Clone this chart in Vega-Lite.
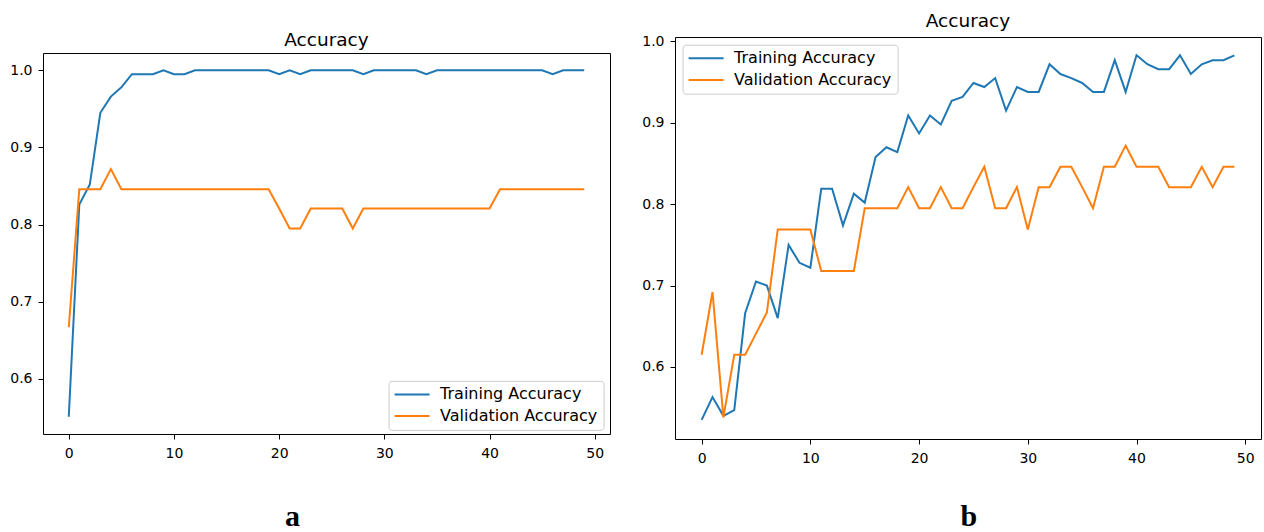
{
"$schema": "https://vega.github.io/schema/vega-lite/v6.json",
"background": "white",
"padding": {"left": 9, "top": 11, "right": 0, "bottom": 0},
"spacing": 30,
"config": {
  "view": {"stroke": "#000", "strokeWidth": 1},
  "font": "DejaVu Sans",
  "axis": {"grid": false, "domain": false, "tickColor": "#000", "tickSize": 5, "tickWidth": 1, "labelFont": "DejaVu Sans", "labelFontSize": 14, "labelColor": "#000"},
  "title": {"font": "DejaVu Sans", "fontSize": 18.5, "fontWeight": "normal", "color": "#000", "anchor": "middle"}
},
"datasets": {
"a": [
{"epoch":0,"series":"Training Accuracy","accuracy":0.551},{"epoch":1,"series":"Training Accuracy","accuracy":0.826},{"epoch":2,"series":"Training Accuracy","accuracy":0.852},{"epoch":3,"series":"Training Accuracy","accuracy":0.945},{"epoch":4,"series":"Training Accuracy","accuracy":0.966},{"epoch":5,"series":"Training Accuracy","accuracy":0.978},{"epoch":6,"series":"Training Accuracy","accuracy":0.995},{"epoch":7,"series":"Training Accuracy","accuracy":0.995},{"epoch":8,"series":"Training Accuracy","accuracy":0.995},{"epoch":9,"series":"Training Accuracy","accuracy":1.0},
{"epoch":10,"series":"Training Accuracy","accuracy":0.995},{"epoch":11,"series":"Training Accuracy","accuracy":0.995},{"epoch":12,"series":"Training Accuracy","accuracy":1.0},{"epoch":13,"series":"Training Accuracy","accuracy":1.0},{"epoch":14,"series":"Training Accuracy","accuracy":1.0},{"epoch":15,"series":"Training Accuracy","accuracy":1.0},{"epoch":16,"series":"Training Accuracy","accuracy":1.0},{"epoch":17,"series":"Training Accuracy","accuracy":1.0},{"epoch":18,"series":"Training Accuracy","accuracy":1.0},{"epoch":19,"series":"Training Accuracy","accuracy":1.0},
{"epoch":20,"series":"Training Accuracy","accuracy":0.995},{"epoch":21,"series":"Training Accuracy","accuracy":1.0},{"epoch":22,"series":"Training Accuracy","accuracy":0.995},{"epoch":23,"series":"Training Accuracy","accuracy":1.0},{"epoch":24,"series":"Training Accuracy","accuracy":1.0},{"epoch":25,"series":"Training Accuracy","accuracy":1.0},{"epoch":26,"series":"Training Accuracy","accuracy":1.0},{"epoch":27,"series":"Training Accuracy","accuracy":1.0},{"epoch":28,"series":"Training Accuracy","accuracy":0.995},{"epoch":29,"series":"Training Accuracy","accuracy":1.0},
{"epoch":30,"series":"Training Accuracy","accuracy":1.0},{"epoch":31,"series":"Training Accuracy","accuracy":1.0},{"epoch":32,"series":"Training Accuracy","accuracy":1.0},{"epoch":33,"series":"Training Accuracy","accuracy":1.0},{"epoch":34,"series":"Training Accuracy","accuracy":0.995},{"epoch":35,"series":"Training Accuracy","accuracy":1.0},{"epoch":36,"series":"Training Accuracy","accuracy":1.0},{"epoch":37,"series":"Training Accuracy","accuracy":1.0},{"epoch":38,"series":"Training Accuracy","accuracy":1.0},{"epoch":39,"series":"Training Accuracy","accuracy":1.0},
{"epoch":40,"series":"Training Accuracy","accuracy":1.0},{"epoch":41,"series":"Training Accuracy","accuracy":1.0},{"epoch":42,"series":"Training Accuracy","accuracy":1.0},{"epoch":43,"series":"Training Accuracy","accuracy":1.0},{"epoch":44,"series":"Training Accuracy","accuracy":1.0},{"epoch":45,"series":"Training Accuracy","accuracy":1.0},{"epoch":46,"series":"Training Accuracy","accuracy":0.995},{"epoch":47,"series":"Training Accuracy","accuracy":1.0},{"epoch":48,"series":"Training Accuracy","accuracy":1.0},{"epoch":49,"series":"Training Accuracy","accuracy":1.0},
{"epoch":0,"series":"Validation Accuracy","accuracy":0.667},{"epoch":1,"series":"Validation Accuracy","accuracy":0.846},{"epoch":2,"series":"Validation Accuracy","accuracy":0.846},{"epoch":3,"series":"Validation Accuracy","accuracy":0.846},{"epoch":4,"series":"Validation Accuracy","accuracy":0.872},{"epoch":5,"series":"Validation Accuracy","accuracy":0.846},{"epoch":6,"series":"Validation Accuracy","accuracy":0.846},{"epoch":7,"series":"Validation Accuracy","accuracy":0.846},{"epoch":8,"series":"Validation Accuracy","accuracy":0.846},{"epoch":9,"series":"Validation Accuracy","accuracy":0.846},
{"epoch":10,"series":"Validation Accuracy","accuracy":0.846},{"epoch":11,"series":"Validation Accuracy","accuracy":0.846},{"epoch":12,"series":"Validation Accuracy","accuracy":0.846},{"epoch":13,"series":"Validation Accuracy","accuracy":0.846},{"epoch":14,"series":"Validation Accuracy","accuracy":0.846},{"epoch":15,"series":"Validation Accuracy","accuracy":0.846},{"epoch":16,"series":"Validation Accuracy","accuracy":0.846},{"epoch":17,"series":"Validation Accuracy","accuracy":0.846},{"epoch":18,"series":"Validation Accuracy","accuracy":0.846},{"epoch":19,"series":"Validation Accuracy","accuracy":0.846},
{"epoch":20,"series":"Validation Accuracy","accuracy":0.821},{"epoch":21,"series":"Validation Accuracy","accuracy":0.795},{"epoch":22,"series":"Validation Accuracy","accuracy":0.795},{"epoch":23,"series":"Validation Accuracy","accuracy":0.821},{"epoch":24,"series":"Validation Accuracy","accuracy":0.821},{"epoch":25,"series":"Validation Accuracy","accuracy":0.821},{"epoch":26,"series":"Validation Accuracy","accuracy":0.821},{"epoch":27,"series":"Validation Accuracy","accuracy":0.795},{"epoch":28,"series":"Validation Accuracy","accuracy":0.821},{"epoch":29,"series":"Validation Accuracy","accuracy":0.821},
{"epoch":30,"series":"Validation Accuracy","accuracy":0.821},{"epoch":31,"series":"Validation Accuracy","accuracy":0.821},{"epoch":32,"series":"Validation Accuracy","accuracy":0.821},{"epoch":33,"series":"Validation Accuracy","accuracy":0.821},{"epoch":34,"series":"Validation Accuracy","accuracy":0.821},{"epoch":35,"series":"Validation Accuracy","accuracy":0.821},{"epoch":36,"series":"Validation Accuracy","accuracy":0.821},{"epoch":37,"series":"Validation Accuracy","accuracy":0.821},{"epoch":38,"series":"Validation Accuracy","accuracy":0.821},{"epoch":39,"series":"Validation Accuracy","accuracy":0.821},
{"epoch":40,"series":"Validation Accuracy","accuracy":0.821},{"epoch":41,"series":"Validation Accuracy","accuracy":0.846},{"epoch":42,"series":"Validation Accuracy","accuracy":0.846},{"epoch":43,"series":"Validation Accuracy","accuracy":0.846},{"epoch":44,"series":"Validation Accuracy","accuracy":0.846},{"epoch":45,"series":"Validation Accuracy","accuracy":0.846},{"epoch":46,"series":"Validation Accuracy","accuracy":0.846},{"epoch":47,"series":"Validation Accuracy","accuracy":0.846},{"epoch":48,"series":"Validation Accuracy","accuracy":0.846},{"epoch":49,"series":"Validation Accuracy","accuracy":0.846}
],
"b": [
{"epoch":0,"series":"Training Accuracy","accuracy":0.535},{"epoch":1,"series":"Training Accuracy","accuracy":0.563},{"epoch":2,"series":"Training Accuracy","accuracy":0.540},{"epoch":3,"series":"Training Accuracy","accuracy":0.547},{"epoch":4,"series":"Training Accuracy","accuracy":0.666},{"epoch":5,"series":"Training Accuracy","accuracy":0.705},{"epoch":6,"series":"Training Accuracy","accuracy":0.700},{"epoch":7,"series":"Training Accuracy","accuracy":0.660},{"epoch":8,"series":"Training Accuracy","accuracy":0.750},{"epoch":9,"series":"Training Accuracy","accuracy":0.728},
{"epoch":10,"series":"Training Accuracy","accuracy":0.722},{"epoch":11,"series":"Training Accuracy","accuracy":0.819},{"epoch":12,"series":"Training Accuracy","accuracy":0.819},{"epoch":13,"series":"Training Accuracy","accuracy":0.774},{"epoch":14,"series":"Training Accuracy","accuracy":0.813},{"epoch":15,"series":"Training Accuracy","accuracy":0.802},{"epoch":16,"series":"Training Accuracy","accuracy":0.858},{"epoch":17,"series":"Training Accuracy","accuracy":0.870},{"epoch":18,"series":"Training Accuracy","accuracy":0.864},{"epoch":19,"series":"Training Accuracy","accuracy":0.909},
{"epoch":20,"series":"Training Accuracy","accuracy":0.887},{"epoch":21,"series":"Training Accuracy","accuracy":0.909},{"epoch":22,"series":"Training Accuracy","accuracy":0.898},{"epoch":23,"series":"Training Accuracy","accuracy":0.927},{"epoch":24,"series":"Training Accuracy","accuracy":0.932},{"epoch":25,"series":"Training Accuracy","accuracy":0.949},{"epoch":26,"series":"Training Accuracy","accuracy":0.944},{"epoch":27,"series":"Training Accuracy","accuracy":0.955},{"epoch":28,"series":"Training Accuracy","accuracy":0.915},{"epoch":29,"series":"Training Accuracy","accuracy":0.944},
{"epoch":30,"series":"Training Accuracy","accuracy":0.938},{"epoch":31,"series":"Training Accuracy","accuracy":0.938},{"epoch":32,"series":"Training Accuracy","accuracy":0.972},{"epoch":33,"series":"Training Accuracy","accuracy":0.960},{"epoch":34,"series":"Training Accuracy","accuracy":0.955},{"epoch":35,"series":"Training Accuracy","accuracy":0.949},{"epoch":36,"series":"Training Accuracy","accuracy":0.938},{"epoch":37,"series":"Training Accuracy","accuracy":0.938},{"epoch":38,"series":"Training Accuracy","accuracy":0.977},{"epoch":39,"series":"Training Accuracy","accuracy":0.938},
{"epoch":40,"series":"Training Accuracy","accuracy":0.983},{"epoch":41,"series":"Training Accuracy","accuracy":0.972},{"epoch":42,"series":"Training Accuracy","accuracy":0.966},{"epoch":43,"series":"Training Accuracy","accuracy":0.966},{"epoch":44,"series":"Training Accuracy","accuracy":0.983},{"epoch":45,"series":"Training Accuracy","accuracy":0.960},{"epoch":46,"series":"Training Accuracy","accuracy":0.972},{"epoch":47,"series":"Training Accuracy","accuracy":0.977},{"epoch":48,"series":"Training Accuracy","accuracy":0.977},{"epoch":49,"series":"Training Accuracy","accuracy":0.983},
{"epoch":0,"series":"Validation Accuracy","accuracy":0.615},{"epoch":1,"series":"Validation Accuracy","accuracy":0.692},{"epoch":2,"series":"Validation Accuracy","accuracy":0.538},{"epoch":3,"series":"Validation Accuracy","accuracy":0.615},{"epoch":4,"series":"Validation Accuracy","accuracy":0.615},{"epoch":5,"series":"Validation Accuracy","accuracy":0.641},{"epoch":6,"series":"Validation Accuracy","accuracy":0.667},{"epoch":7,"series":"Validation Accuracy","accuracy":0.769},{"epoch":8,"series":"Validation Accuracy","accuracy":0.769},{"epoch":9,"series":"Validation Accuracy","accuracy":0.769},
{"epoch":10,"series":"Validation Accuracy","accuracy":0.769},{"epoch":11,"series":"Validation Accuracy","accuracy":0.718},{"epoch":12,"series":"Validation Accuracy","accuracy":0.718},{"epoch":13,"series":"Validation Accuracy","accuracy":0.718},{"epoch":14,"series":"Validation Accuracy","accuracy":0.718},{"epoch":15,"series":"Validation Accuracy","accuracy":0.795},{"epoch":16,"series":"Validation Accuracy","accuracy":0.795},{"epoch":17,"series":"Validation Accuracy","accuracy":0.795},{"epoch":18,"series":"Validation Accuracy","accuracy":0.795},{"epoch":19,"series":"Validation Accuracy","accuracy":0.821},
{"epoch":20,"series":"Validation Accuracy","accuracy":0.795},{"epoch":21,"series":"Validation Accuracy","accuracy":0.795},{"epoch":22,"series":"Validation Accuracy","accuracy":0.821},{"epoch":23,"series":"Validation Accuracy","accuracy":0.795},{"epoch":24,"series":"Validation Accuracy","accuracy":0.795},{"epoch":25,"series":"Validation Accuracy","accuracy":0.821},{"epoch":26,"series":"Validation Accuracy","accuracy":0.846},{"epoch":27,"series":"Validation Accuracy","accuracy":0.795},{"epoch":28,"series":"Validation Accuracy","accuracy":0.795},{"epoch":29,"series":"Validation Accuracy","accuracy":0.821},
{"epoch":30,"series":"Validation Accuracy","accuracy":0.769},{"epoch":31,"series":"Validation Accuracy","accuracy":0.821},{"epoch":32,"series":"Validation Accuracy","accuracy":0.821},{"epoch":33,"series":"Validation Accuracy","accuracy":0.846},{"epoch":34,"series":"Validation Accuracy","accuracy":0.846},{"epoch":35,"series":"Validation Accuracy","accuracy":0.821},{"epoch":36,"series":"Validation Accuracy","accuracy":0.795},{"epoch":37,"series":"Validation Accuracy","accuracy":0.846},{"epoch":38,"series":"Validation Accuracy","accuracy":0.846},{"epoch":39,"series":"Validation Accuracy","accuracy":0.872},
{"epoch":40,"series":"Validation Accuracy","accuracy":0.846},{"epoch":41,"series":"Validation Accuracy","accuracy":0.846},{"epoch":42,"series":"Validation Accuracy","accuracy":0.846},{"epoch":43,"series":"Validation Accuracy","accuracy":0.821},{"epoch":44,"series":"Validation Accuracy","accuracy":0.821},{"epoch":45,"series":"Validation Accuracy","accuracy":0.821},{"epoch":46,"series":"Validation Accuracy","accuracy":0.846},{"epoch":47,"series":"Validation Accuracy","accuracy":0.821},{"epoch":48,"series":"Validation Accuracy","accuracy":0.846},{"epoch":49,"series":"Validation Accuracy","accuracy":0.846}
]
},
"resolve": {"scale": {"color": "independent", "x": "independent", "y": "independent"}, "legend": {"color": "independent"}},
"hconcat": [
{
  "spacing": -9,
  "vconcat": [
    {
      "data": {"values": []},
      "width": 567, "height": 1,
      "view": {"stroke": "transparent"},
      "mark": "point"
    },
    {
      "data": {"name": "a"},
      "width": 567, "height": 381,
      "title": {"text": "Accuracy", "offset": 4},
      "mark": {"type": "line", "strokeWidth": 2},
      "encoding": {
        "x": {"field": "epoch", "type": "quantitative",
          "scale": {"domain": [-2.45, 51.45], "nice": false, "zero": false},
          "axis": {"values": [0,10,20,30,40,50], "labelPadding": 7, "title": "a", "titleFont": "Liberation Serif", "titleFontWeight": "bold", "titleFontSize": 30, "titleColor": "#000", "titleX": 249, "titleY": 91, "titleBaseline": "alphabetic", "titleAlign": "center"}},
        "y": {"field": "accuracy", "type": "quantitative",
          "scale": {"domain": [0.5286, 1.0225], "nice": false, "zero": false},
          "axis": {"values": [0.6,0.7,0.8,0.9,1.0], "format": ".1f", "labelPadding": 6, "title": null}},
        "color": {"field": "series", "type": "nominal",
          "scale": {"domain": ["Training Accuracy", "Validation Accuracy"], "range": ["#1f77b4", "#ff7f0e"]},
          "legend": {"orient": "none", "legendX": 345.6, "legendY": 343.9, "title": null,
            "symbolType": "M-3,0H3", "symbolSize": 136, "symbolStrokeWidth": 2, "symbolOffset": 10,
            "labelOffset": 20, "labelFontSize": 16, "labelFont": "DejaVu Sans", "labelColor": "#000",
            "rowPadding": 5.7, "padding": 5.5, "strokeColor": "#cccccc", "fillColor": "rgba(255,255,255,0.8)", "cornerRadius": 3}}
      }
    }
  ]
},
{
  "data": {"name": "b"},
  "width": 586, "height": 402,
  "title": {"text": "Accuracy", "offset": 4},
  "mark": {"type": "line", "strokeWidth": 2},
  "encoding": {
    "x": {"field": "epoch", "type": "quantitative",
      "scale": {"domain": [-2.45, 51.45], "nice": false, "zero": false},
      "axis": {"values": [0,10,20,30,40,50], "labelPadding": 7, "title": "b", "titleFont": "Liberation Serif", "titleFontWeight": "bold", "titleFontSize": 30, "titleColor": "#000", "titleX": 293.3, "titleY": 86.5, "titleBaseline": "alphabetic", "titleAlign": "center"}},
    "y": {"field": "accuracy", "type": "quantitative",
      "scale": {"domain": [0.5115, 1.0055], "nice": false, "zero": false},
      "axis": {"values": [0.6,0.7,0.8,0.9,1.0], "format": ".1f", "labelPadding": 6, "title": null}},
    "color": {"field": "series", "type": "nominal",
      "scale": {"domain": ["Training Accuracy", "Validation Accuracy"], "range": ["#1f77b4", "#ff7f0e"]},
      "legend": {"orient": "none", "legendX": 7.6, "legendY": 7.7, "title": null,
        "symbolType": "M-3,0H3", "symbolSize": 136, "symbolStrokeWidth": 2, "symbolOffset": 10,
        "labelOffset": 20, "labelFontSize": 16, "labelFont": "DejaVu Sans", "labelColor": "#000",
        "rowPadding": 5.7, "padding": 5.5, "strokeColor": "#cccccc", "fillColor": "rgba(255,255,255,0.8)", "cornerRadius": 3}}
  }
}
]
}
